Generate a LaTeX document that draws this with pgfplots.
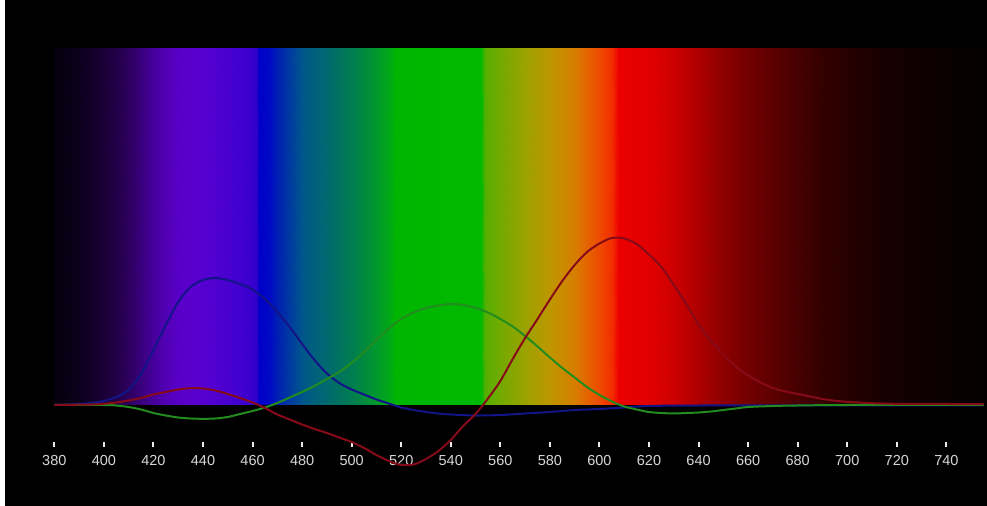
\documentclass[border=0pt]{standalone}
\usepackage{fontspec}
\setmainfont{Liberation Sans}
\usepackage{pgfplots}
\pgfplotsset{compat=1.18}
\definecolor{cb}{RGB}{18,20,135}
\definecolor{cg}{RGB}{35,140,30}
\definecolor{cr}{RGB}{135,10,25}
\definecolor{lbl}{RGB}{215,215,215}
\begin{document}
\begin{tikzpicture}
\fill[black] (0,-59bp) rectangle (987bp,447bp);
\fill[white] (0,-59bp) rectangle (5bp,447bp);
\begin{axis}[
  at={(0,0)}, anchor=south west,
  scale only axis, width=987bp, height=399bp,
  xmin=358.09, xmax=756.39, ymin=-42, ymax=357,
  clip=false,
  axis x line*=bottom, axis y line=none,
  axis line style={draw=none},
  xtick={380,400,...,740}, ytick=\empty,
  tick align=inside, major tick length=5bp,
  xtick style={draw=white!92!black, line width=2bp},
  xticklabel style={font=\fontsize{14.5bp}{14.5bp}\selectfont, text=lbl, anchor=base, yshift=-19bp},
  /pgf/number format/assume math mode=true,
  point meta min=380, point meta max=756,
  colormap={spec}{
    rgb255(0pt)=(5,0,14); rgb255(5pt)=(8,0,20); rgb255(10pt)=(13,0,30); rgb255(15pt)=(18,0,40);
    rgb255(20pt)=(26,0,55); rgb255(25pt)=(35,0,72); rgb255(30pt)=(46,0,95); rgb255(35pt)=(58,0,125);
    rgb255(40pt)=(70,0,155); rgb255(45pt)=(82,0,182); rgb255(50pt)=(88,0,198); rgb255(55pt)=(90,0,206);
    rgb255(60pt)=(86,0,208); rgb255(65pt)=(80,0,208); rgb255(70pt)=(72,0,207); rgb255(75pt)=(64,0,206);
    rgb255(80pt)=(55,0,205); rgb255(81.5pt)=(50,0,204); rgb255(82.5pt)=(0,0,200); rgb255(87pt)=(0,10,195);
    rgb255(90pt)=(0,30,180); rgb255(95pt)=(0,60,160); rgb255(100pt)=(0,85,140); rgb255(105pt)=(0,97,124);
    rgb255(110pt)=(0,105,112); rgb255(115pt)=(0,115,95); rgb255(120pt)=(0,125,80); rgb255(125pt)=(0,138,62);
    rgb255(130pt)=(0,152,45); rgb255(135pt)=(0,168,22); rgb255(138pt)=(0,182,0); rgb255(172pt)=(0,185,0);
    rgb255(174pt)=(85,175,0); rgb255(180pt)=(115,170,0); rgb255(190pt)=(155,162,0); rgb255(200pt)=(190,150,0);
    rgb255(210pt)=(215,125,0); rgb255(215pt)=(228,100,0); rgb255(220pt)=(238,75,0); rgb255(225pt)=(242,45,0);
    rgb255(227pt)=(240,10,0); rgb255(228pt)=(235,0,0); rgb255(240pt)=(225,0,0); rgb255(250pt)=(205,0,0);
    rgb255(260pt)=(172,0,0); rgb255(270pt)=(142,0,0); rgb255(280pt)=(115,0,0); rgb255(290pt)=(92,0,0);
    rgb255(300pt)=(70,0,0); rgb255(310pt)=(52,0,0); rgb255(320pt)=(38,0,0); rgb255(330pt)=(28,0,0);
    rgb255(340pt)=(20,0,0); rgb255(350pt)=(14,0,0); rgb255(360pt)=(10,0,0); rgb255(370pt)=(6,0,0);
    rgb255(376pt)=(5,0,0)
  },
]
% spectrum band
\addplot[surf, shader=interp, point meta=x, mesh/rows=2] coordinates {
(380,0) (385,0) (390,0) (395,0) (400,0) (405,0) (410,0) (415,0) (420,0) (425,0) (430,0) (435,0) (440,0) (445,0) (450,0) (455,0) (460,0) (461.5,0) (462.5,0) (467,0) (470,0) (475,0) (480,0) (485,0) (490,0) (495,0) (500,0) (505,0) (510,0) (515,0) (518,0) (552,0) (554,0) (560,0) (570,0) (580,0) (590,0) (595,0) (600,0) (605,0) (607,0) (608,0) (620,0) (630,0) (640,0) (650,0) (660,0) (670,0) (680,0) (690,0) (700,0) (710,0) (720,0) (730,0) (740,0) (750,0) (756,0)
(380,357) (385,357) (390,357) (395,357) (400,357) (405,357) (410,357) (415,357) (420,357) (425,357) (430,357) (435,357) (440,357) (445,357) (450,357) (455,357) (460,357) (461.5,357) (462.5,357) (467,357) (470,357) (475,357) (480,357) (485,357) (490,357) (495,357) (500,357) (505,357) (510,357) (515,357) (518,357) (552,357) (554,357) (560,357) (570,357) (580,357) (590,357) (595,357) (600,357) (605,357) (607,357) (608,357) (620,357) (630,357) (640,357) (650,357) (660,357) (670,357) (680,357) (690,357) (700,357) (710,357) (720,357) (730,357) (740,357) (750,357) (756,357)
};
% blue
\addplot[cb, line width=2bp, smooth] coordinates {
(380,0) (390,1) (395,2) (400,4) (405,8) (410,15) (415,31) (420,55) (425,80) (430,103) (435,118) (440,125) (445,127) (450,125) (455,121) (460,115.5) (465,106) (470,93) (475,78) (480,61) (485,45) (490,31.5) (495,22) (500,15.5) (505,10.5) (510,5.5) (515,1.5) (520,-2.5) (525,-5) (530,-7) (535,-8.5) (540,-9.5) (550,-10.5) (560,-10) (570,-8.5) (580,-7) (590,-5) (600,-4) (610,-2.5) (620,-1) (640,-0.5) (700,-0.5) (755,-0.5)
};
% green
\addplot[cg, line width=2bp, smooth] coordinates {
(380,0) (400,0) (405,-0.5) (410,-2) (415,-4.5) (420,-8) (425,-10.5) (430,-12.5) (435,-13.5) (440,-13.8) (445,-13.5) (450,-12) (455,-9) (460,-6) (465,-2.5) (470,2) (475,7.5) (480,13) (485,19) (490,26) (495,33) (500,42) (505,53) (510,65) (515,76.5) (520,86) (525,92.5) (530,97) (535,99.5) (540,101) (545,100) (550,97) (555,92.5) (560,86) (565,78.5) (570,69) (575,58.5) (580,47.5) (585,37) (590,27.5) (595,18) (600,10) (605,3.5) (610,-1.5) (615,-4.5) (620,-7) (625,-8) (630,-8.5) (635,-8) (640,-7.5) (645,-6.5) (650,-5) (655,-3.5) (660,-2) (670,-1) (680,-0.5) (700,0) (755,0)
};
% red
\addplot[cr, line width=2bp, smooth] coordinates {
(380,0) (390,0.3) (395,0.5) (400,1.2) (405,2.5) (410,4.5) (415,7) (420,10.5) (425,13) (430,15.5) (435,16.8) (440,16.5) (445,14.5) (450,11) (455,7) (460,2.5) (465,-3) (470,-9.5) (475,-14.5) (480,-19.5) (485,-24) (490,-28) (495,-32.5) (500,-37) (505,-43) (510,-50) (515,-56) (520,-60) (525,-59.5) (530,-54) (535,-46) (540,-35) (545,-21) (550,-9) (555,6.5) (560,24) (565,46) (570,67) (575,86) (580,105.5) (585,124) (590,140) (595,153) (600,161.5) (605,167) (610,166.5) (615,161) (620,150.5) (625,138) (630,120) (635,101) (640,80.5) (645,64) (650,50.5) (655,38.5) (660,29.5) (665,22.5) (670,17) (675,13.5) (680,11) (685,8.5) (690,6) (695,4.3) (700,3.2) (710,1.8) (720,1.2) (740,1) (755,1)
};
\end{axis}
\end{tikzpicture}
\end{document}
